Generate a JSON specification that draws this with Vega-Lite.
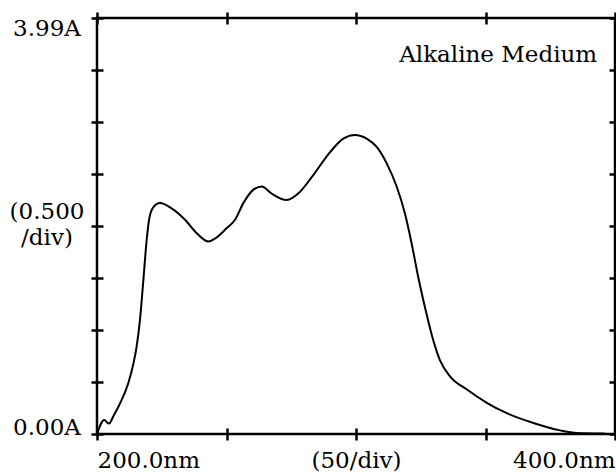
{
  "$schema": "https://vega.github.io/schema/vega-lite/v6.json",
  "width": 518,
  "height": 416,
  "autosize": {"type": "none"},
  "padding": {"left": 97, "top": 18, "right": 1, "bottom": 39},
  "background": "white",
  "config": {
    "view": {"stroke": "black", "strokeWidth": 2.5},
    "axis": {
      "domain": false,
      "grid": false,
      "tickColor": "black",
      "tickWidth": 2.5,
      "tickSize": 12,
      "offset": -6,
      "labelFont": "DejaVu Serif",
      "labelFontSize": 23,
      "labelColor": "black",
      "labelOverlap": false,
      "labelBound": false,
      "title": null
    }
  },
  "datasets": {
    "spectrum": [
      {"nm": 200, "abs": 0.0},
      {"nm": 202.8, "abs": 0.135},
      {"nm": 204.6, "abs": 0.10},
      {"nm": 206.5, "abs": 0.18},
      {"nm": 208.9, "abs": 0.295},
      {"nm": 212.1, "abs": 0.49},
      {"nm": 214.0, "abs": 0.67},
      {"nm": 215.3, "abs": 0.84},
      {"nm": 216.6, "abs": 1.10},
      {"nm": 217.9, "abs": 1.48},
      {"nm": 219.2, "abs": 1.87},
      {"nm": 220.1, "abs": 2.06},
      {"nm": 221.7, "abs": 2.18},
      {"nm": 224.3, "abs": 2.22},
      {"nm": 228.8, "abs": 2.17},
      {"nm": 234.0, "abs": 2.06},
      {"nm": 238.5, "abs": 1.93},
      {"nm": 243.0, "abs": 1.85},
      {"nm": 245.6, "abs": 1.88},
      {"nm": 250.1, "abs": 1.98},
      {"nm": 253.3, "abs": 2.06},
      {"nm": 256.5, "abs": 2.22},
      {"nm": 260.4, "abs": 2.35},
      {"nm": 263.6, "abs": 2.38},
      {"nm": 267.5, "abs": 2.31},
      {"nm": 273.2, "abs": 2.25},
      {"nm": 278.4, "abs": 2.33},
      {"nm": 283.5, "abs": 2.49},
      {"nm": 290.0, "abs": 2.71},
      {"nm": 295.1, "abs": 2.84},
      {"nm": 299.6, "abs": 2.875},
      {"nm": 304.1, "abs": 2.84},
      {"nm": 308.0, "abs": 2.76},
      {"nm": 311.9, "abs": 2.60},
      {"nm": 315.7, "abs": 2.38},
      {"nm": 318.9, "abs": 2.12},
      {"nm": 321.5, "abs": 1.83},
      {"nm": 324.1, "abs": 1.50},
      {"nm": 326.8, "abs": 1.20},
      {"nm": 329.5, "abs": 0.93},
      {"nm": 332.4, "abs": 0.71},
      {"nm": 336.3, "abs": 0.555},
      {"nm": 342.7, "abs": 0.43},
      {"nm": 350.5, "abs": 0.30},
      {"nm": 358.2, "abs": 0.20},
      {"nm": 368.5, "abs": 0.106},
      {"nm": 378.8, "abs": 0.035},
      {"nm": 385.2, "abs": 0.01},
      {"nm": 396.0, "abs": 0.005}
    ],
    "note": [
      {"nm": 393.1, "abs": 3.577, "label": "Alkaline Medium"}
    ]
  },
  "resolve": {"axis": {"x": "independent", "y": "independent"}},
  "layer": [
    {
      "data": {"name": "spectrum"},
      "mark": {"type": "line", "color": "black", "strokeWidth": 2, "interpolate": "monotone"},
      "encoding": {
        "x": {
          "field": "nm", "type": "quantitative",
          "scale": {"domain": [200, 400], "nice": false, "zero": false},
          "axis": {
            "orient": "bottom",
            "values": [200, 250, 300, 350, 400],
            "labelExpr": "datum.value == 200 ? '200.0nm' : datum.value == 300 ? '(50/div)' : datum.value == 400 ? '400.0nm' : ''",
            "labelFlush": true,
            "labelBaseline": "alphabetic",
            "labelPadding": 27.5
          }
        },
        "y": {
          "field": "abs", "type": "quantitative",
          "scale": {"domain": [0, 4], "nice": false, "zero": false},
          "axis": {
            "orient": "left",
            "values": [0, 0.5, 1, 1.5, 2, 2.5, 3, 3.5, 4],
            "labelExpr": "datum.value == 4 ? '3.99A' : datum.value == 0 ? '0.00A' : datum.value == 2 ? ['(0.500', '/div)'] : ''",
            "labelAlign": "center",
            "labelBaseline": "alphabetic",
            "labelPadding": 44.5,
            "labelLineHeight": 26,
            "labelOffset": {
              "condition": [
                {"test": "datum.value == 4", "value": 17},
                {"test": "datum.value == 2", "value": -8}
              ],
              "value": 0
            }
          }
        }
      }
    },
    {
      "data": {"name": "spectrum"},
      "mark": {"type": "line", "color": "black", "strokeOpacity": 0},
      "encoding": {
        "x": {
          "field": "nm", "type": "quantitative",
          "axis": {"orient": "top", "values": [200, 250, 300, 350, 400], "labels": false}
        },
        "y": {
          "field": "abs", "type": "quantitative",
          "axis": {"orient": "right", "values": [0, 0.5, 1, 1.5, 2, 2.5, 3, 3.5, 4], "labels": false}
        }
      }
    },
    {
      "data": {"name": "note"},
      "mark": {"type": "text", "align": "right", "baseline": "alphabetic", "font": "DejaVu Serif", "fontSize": 23, "color": "black"},
      "encoding": {
        "x": {"field": "nm", "type": "quantitative", "axis": null},
        "y": {"field": "abs", "type": "quantitative", "axis": null},
        "text": {"field": "label"}
      }
    }
  ]
}
